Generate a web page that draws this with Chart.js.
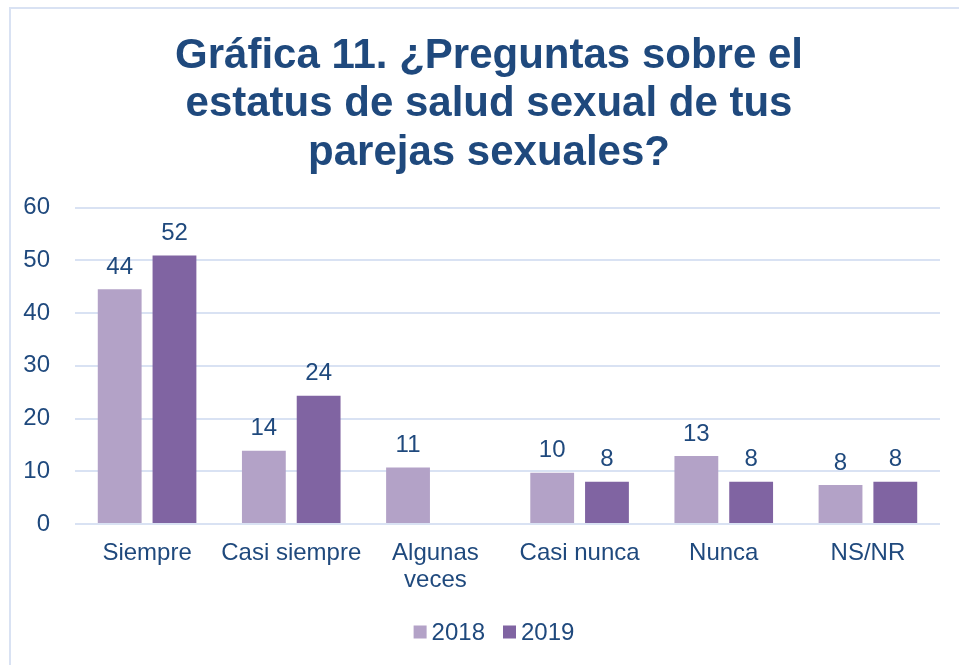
<!DOCTYPE html>
<html>
<head>
<meta charset="utf-8">
<script src="https://cdn.jsdelivr.net/npm/chart.js@4/dist/chart.umd.min.js"></script>
<style>
html,body{margin:0;padding:0;background:#fff;}
#wrap{width:959px;height:665px;position:relative;}
</style>
</head>
<body>
<div id="wrap"><canvas id="c" width="959" height="665"></canvas></div>
<script>
const categories = ['Siempre', 'Casi siempre', ['Algunas', 'veces'], 'Casi nunca', 'Nunca', 'NS/NR'];
const seriesNames = ['2018', '2019'];
const values2018 = [44.5, 13.9, 10.7, 9.7, 12.9, 7.4];
const values2019 = [50.9, 24.3, null, 8.0, 8.0, 8.0];
const labels2018 = ['44', '14', '11', '10', '13', '8'];
const labels2019 = ['52', '24', '', '8', '8', '8'];
const yTicks = [0, 10, 20, 30, 40, 50, 60];
const titleLines = ['Gráfica 11. ¿Preguntas sobre el', 'estatus de salud sexual de tus', 'parejas sexuales?'];

const textColor = '#1f497d';
const gridColor = '#d9e2f3';
const seriesColors = ['#b3a2c7', '#8064a2'];
const FONT = '"Liberation Sans", Arial, sans-serif';

const frame = {
  id: 'frame',
  beforeDraw(chart) {
    const ctx = chart.ctx;
    ctx.save();
    ctx.fillStyle = '#fff';
    ctx.fillRect(0, 0, chart.width, chart.height);
    ctx.strokeStyle = gridColor;
    ctx.lineWidth = 2;
    ctx.strokeRect(10, 8, chart.width + 10, chart.height + 10);
    ctx.restore();
  }
};

const customText = {
  id: 'customText',
  afterDraw(chart) {
    const ctx = chart.ctx;
    ctx.save();
    // title
    ctx.font = 'bold 42px ' + FONT;
    ctx.fillStyle = textColor;
    ctx.textAlign = 'center';
    ctx.textBaseline = 'middle';
    titleLines.forEach((t, i) => ctx.fillText(t, 489, 56 + i * 48.5));
    // legend
    ctx.font = '24px ' + FONT;
    ctx.textAlign = 'left';
    const box = 13, gap = 5, between = 18;
    const widths = seriesNames.map(n => ctx.measureText(n).width);
    const total = widths.reduce((a, w) => a + box + gap + w, 0) + between * (seriesNames.length - 1);
    let x = 494 - total / 2;
    const cy = 632;
    seriesNames.forEach((n, i) => {
      ctx.fillStyle = seriesColors[i];
      ctx.fillRect(x, cy - box / 2, box, box);
      x += box + gap;
      ctx.fillStyle = textColor;
      ctx.fillText(n, x, cy + 1);
      x += widths[i] + between;
    });
    ctx.restore();
  }
};

const valueLabels = {
  id: 'valueLabels',
  afterDatasetsDraw(chart) {
    const ctx = chart.ctx;
    const lbls = [labels2018, labels2019];
    ctx.save();
    ctx.font = '24px ' + FONT;
    ctx.fillStyle = textColor;
    ctx.textAlign = 'center';
    ctx.textBaseline = 'middle';
    chart.data.datasets.forEach((ds, i) => {
      const meta = chart.getDatasetMeta(i);
      meta.data.forEach((bar, j) => {
        const t = lbls[i][j];
        if (!t || ds.data[j] == null) return;
        ctx.fillText(t, bar.x, bar.y - 22);
      });
    });
    ctx.restore();
  }
};

new Chart(document.getElementById('c'), {
  type: 'bar',
  data: {
    labels: categories,
    datasets: [
      { label: seriesNames[0], data: values2018, backgroundColor: seriesColors[0], categoryPercentage: 0.76, barPercentage: 0.8 },
      { label: seriesNames[1], data: values2019, backgroundColor: seriesColors[1], categoryPercentage: 0.76, barPercentage: 0.8 }
    ]
  },
  options: {
    responsive: false,
    animation: false,
    layout: { padding: { left: 15, right: 19, top: 0, bottom: 55 } },
    plugins: {
      title: {
        display: true,
        text: titleLines,
        color: 'rgba(0,0,0,0)',
        font: { family: FONT, size: 42, weight: 'bold', lineHeight: 1.155 },
        padding: { top: 31, bottom: 31 }
      },
      legend: { display: false },
      tooltip: { enabled: false }
    },
    scales: {
      x: {
        grid: { display: false, drawTicks: false },
        border: { display: false },
        ticks: {
          color: textColor,
          font: { family: FONT, size: 24, lineHeight: 1.13 },
          padding: 16,
          maxRotation: 0,
          autoSkip: false
        },
        afterFit(scale) { scale.height = 86; }
      },
      y: {
        min: 0,
        max: 60,
        afterBuildTicks(scale) { scale.ticks = yTicks.map(v => ({ value: v })); },
        grid: { color: gridColor, lineWidth: 2, drawTicks: false },
        border: { display: false },
        ticks: {
          color: textColor,
          font: { family: FONT, size: 24 },
          padding: 25
        },
        afterFit(scale) { scale.width = 60; }
      }
    }
  },
  plugins: [frame, customText, valueLabels]
});
</script>
</body>
</html>
